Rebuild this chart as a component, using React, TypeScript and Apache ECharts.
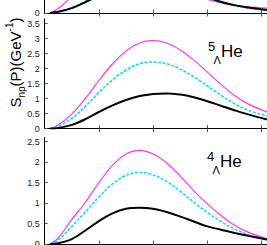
import React, { useEffect, useRef } from "react";
import * as echarts from "echarts";

const momenta = [0.1, 0.25, 0.5, 0.75, 1, 1.25, 1.5, 1.75, 2, 2.25, 2.5, 2.75, 3, 3.25, 3.5, 3.75, 4.1];

// top panel (only the lower part is visible)
const topMagenta = [0, 0.15, 0.55, 1.1, 1.6, 1.95, 2.05, 1.9, 1.6, 1.25, 0.9, 0.62, 0.45, 0.33, 0.25, 0.2, 0.16];
const topCyan = [0, 0.05, 0.18, 0.38, 0.62, 0.86, 1.05, 1.15, 1.14, 1.03, 0.86, 0.68, 0.5, 0.35, 0.24, 0.16, 0.09];
const topBlack = [0, 0.04, 0.16, 0.36, 0.58, 0.85, 1.05, 1.15, 1.15, 1.05, 0.88, 0.7, 0.52, 0.37, 0.26, 0.18, 0.1];

// 5ΛHe
const he5Magenta = [0, 0.12, 0.48, 1.0, 1.6, 2.15, 2.58, 2.85, 2.93, 2.85, 2.62, 2.28, 1.88, 1.47, 1.1, 0.82, 0.55];
const he5Cyan = [0, 0.08, 0.34, 0.74, 1.2, 1.62, 1.95, 2.16, 2.22, 2.16, 1.98, 1.72, 1.42, 1.11, 0.83, 0.61, 0.42];
const he5Black = [0, 0.02, 0.12, 0.31, 0.55, 0.77, 0.95, 1.08, 1.15, 1.17, 1.13, 1.04, 0.91, 0.76, 0.61, 0.47, 0.3];

// 4ΛHe
const he4Magenta = [0, 0.15, 0.6, 1.02, 1.5, 1.92, 2.2, 2.29, 2.2, 1.98, 1.66, 1.3, 0.98, 0.7, 0.46, 0.29, 0.13];
const he4Cyan = [0, 0.1, 0.43, 0.78, 1.15, 1.47, 1.68, 1.75, 1.69, 1.53, 1.29, 1.02, 0.77, 0.55, 0.37, 0.23, 0.1];
const he4Black = [0, 0.02, 0.12, 0.33, 0.56, 0.75, 0.86, 0.885, 0.86, 0.78, 0.67, 0.55, 0.43, 0.35, 0.27, 0.2, 0.11];

const ticksTop = [0, 0.5, 1, 1.5, 2, 2.5, 3, 3.5];
const labelsTop = [0];
const ticksMid = [0, 0.5, 1, 1.5, 2, 2.5, 3, 3.5];
const ticksBot = [0, 0.5, 1, 1.5, 2, 2.5];
const xTicks = [1, 2, 3, 4];

const FONT = "'Liberation Sans', Arial, sans-serif";

export default function App() {
  const ref = useRef<HTMLDivElement>(null);
  useEffect(() => {
    document.body.style.margin = "0";
    const chart = echarts.init(ref.current!, null, { renderer: "svg" });
    const pairs = (ys: number[]) => momenta.map((x, i) => [x, ys[i]]);

    const grids = [
      { left: 44.7, right: 0, top: -102, height: 115, containLabel: false, outerBoundsMode: "none" },
      { left: 44.7, right: 0, top: 19, height: 109.5, containLabel: false, outerBoundsMode: "none" },
      { left: 44.7, right: 0, top: 137.6, height: 106.4, containLabel: false, outerBoundsMode: "none" },
    ];
    const yMax = [3.8, 3.65, 2.6];
    const yTicks = [ticksTop, ticksMid, ticksBot];
    const yLabels = [labelsTop, ticksMid, ticksBot];

    const xAxes: any[] = [];
    grids.forEach((_, gi) => {
      [true, false].forEach((inside) => {
        xAxes.push({
          type: "value",
          gridIndex: gi,
          min: 0,
          max: 4.1,
          position: "bottom",
          offset: 0,
          axisLine: { show: inside, onZero: false, lineStyle: { color: "#000", width: 1 } },
          axisTick: { show: true, inside, length: 3.5, customValues: xTicks, lineStyle: { color: "#555", width: 1 } },
          axisLabel: { show: false },
          splitLine: { show: false },
        });
      });
    });

    const yAxes = grids.map((_, gi) => ({
      type: "value",
      gridIndex: gi,
      min: 0,
      max: yMax[gi],
      axisLine: { show: true, onZero: false, lineStyle: { color: "#000", width: 1 } },
      axisTick: { show: true, inside: true, length: 3, customValues: yTicks[gi], lineStyle: { color: "#555" } },
      axisLabel: {
        show: true,
        customValues: yLabels[gi],
        fontSize: 9,
        color: "#222",
        fontFamily: FONT,
        margin: 5,
      },
      splitLine: { show: false },
    }));

    const mk = (gi: number, ys: number[], kind: "m" | "c" | "k") => ({
      type: "line",
      xAxisIndex: gi * 2,
      yAxisIndex: gi,
      data: pairs(ys),
      smooth: 0.35,
      showSymbol: false,
      symbol: "none",
      z: kind === "k" ? 3 : kind === "c" ? 2 : 1,
      lineStyle:
        kind === "m"
          ? { color: "#ff33ff", width: 1.2, type: "solid" }
          : kind === "c"
          ? { color: "#00e0ee", width: 1.5, type: [3, 1.5] }
          : { color: "#000", width: 2, type: "solid" },
    });

    const label = (sup: string, top: number, left: number) => [
      { type: "text", left, top: top - 3, style: { text: sup, fontSize: 13, fontFamily: FONT, fill: "#000" } },
      { type: "text", left: left + 5.5, top: top + 11.5, style: { text: "Λ", fontSize: 11, fontFamily: FONT, fill: "#000" } },
      { type: "text", left: left + 13, top: top, style: { text: "He", fontSize: 17, fontFamily: FONT, fill: "#000" } },
    ];

    chart.setOption({
      animation: false,
      grid: grids,
      xAxis: xAxes,
      yAxis: yAxes,
      series: [
        mk(0, topMagenta, "m"),
        mk(0, topCyan, "c"),
        mk(0, topBlack, "k"),
        mk(1, he5Magenta, "m"),
        mk(1, he5Cyan, "c"),
        mk(1, he5Black, "k"),
        mk(2, he4Magenta, "m"),
        mk(2, he4Cyan, "c"),
        mk(2, he4Black, "k"),
      ],
      graphic: [
        ...label("5", 43.3, 208),
        ...label("4", 152.6, 207),
        {
          type: "text",
          x: 15,
          y: 62.5,
          rotation: Math.PI / 2,
          style: {
            text: "{b|S}{s|np}{b|(P)(GeV}{p|-1}{b|)}",
            align: "center",
            verticalAlign: "middle",
            fill: "#000",
            rich: {
              b: { fontSize: 15, fontFamily: FONT, lineHeight: 22, fill: "#000" },
              s: { fontSize: 10, fontFamily: FONT, lineHeight: 11, verticalAlign: "bottom", fill: "#000" },
              p: { fontSize: 10, fontFamily: FONT, lineHeight: 11, verticalAlign: "top", fill: "#000" },
            },
          },
        },
      ],
    });
    return () => chart.dispose();
  }, []);
  return <div ref={ref} style={{ width: 267, height: 245 }} />;
}
